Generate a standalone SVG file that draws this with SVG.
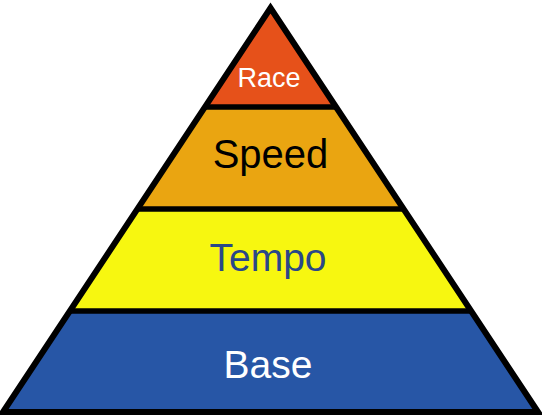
<svg xmlns="http://www.w3.org/2000/svg" width="542" height="418" viewBox="0 0 542 418">
  <style>
    .layer { stroke: none; }
    .edge { fill: none; stroke: #000; stroke-width: 6; stroke-linejoin: miter; }
    .sep { stroke: #000; stroke-width: 5.5; }
    .lbl { font-family: "Liberation Sans", Arial, sans-serif; text-anchor: middle; }
  </style>
  <rect width="542" height="418" fill="#fff"/>
  <g id="race">
    <polygon class="layer" fill="#E6511A" points="270.5,8 336,107 205,107"/>
    <text class="lbl" x="269" y="87" font-size="27" fill="#fff">Race</text>
  </g>
  <g id="speed">
    <polygon class="layer" fill="#EAA511" points="205,107 336,107 403.6,209 137.4,209"/>
    <text class="lbl" x="270.5" y="168" font-size="40" fill="#000">Speed</text>
  </g>
  <g id="tempo">
    <polygon class="layer" fill="#F7F710" points="137.4,209 403.6,209 471.1,311 69.9,311"/>
    <text class="lbl" x="268" y="271" font-size="39" fill="#2A4788">Tempo</text>
  </g>
  <g id="base">
    <polygon class="layer" fill="#2756A6" points="69.9,311 471.1,311 538,412 3,412"/>
    <text class="lbl" x="268" y="378" font-size="39" fill="#fff">Base</text>
  </g>
  <g id="outline">
    <line class="sep" x1="205" y1="107" x2="336" y2="107"/>
    <line class="sep" x1="137.4" y1="209" x2="403.6" y2="209"/>
    <line class="sep" x1="69.9" y1="311" x2="471.1" y2="311"/>
    <polygon class="edge" points="270.5,8 538,412 3,412"/>
  </g>
</svg>
